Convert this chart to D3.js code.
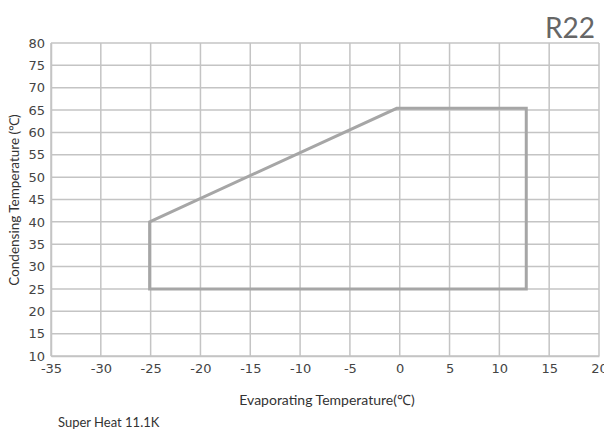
<!DOCTYPE html>
<html><head><meta charset="utf-8">
<script src="https://cdn.jsdelivr.net/npm/d3@7"></script>
<style>body{margin:0;background:#fff}svg{display:block}</style>
</head><body>
<script>
const xTicks = [-35,-30,-25,-20,-15,-10,-5,0,5,10,15,20];
const yTicks = [10,15,20,25,30,35,40,45,50,55,60,65,70,75,80];
const envelopeX = [-25.1, -0.3, 12.7, 12.7, -25.1];
const envelopeY = [40, 65.4, 65.4, 25, 25];
const title = "R22";
const xTitle = "Evaporating Temperature(℃)";
const yTitle = "Condensing Temperature (℃)";
const note = "Super Heat 11.1K";

const W = 604, H = 431;
const m = {l:51, r:5, t:43, b:75};
const svg = d3.select("body").append("svg").attr("width", W).attr("height", H);
const x = d3.scaleLinear().domain([-35,20]).range([m.l, W-m.r]);
const y = d3.scaleLinear().domain([10,80]).range([H-m.b, m.t]);

const grid = svg.append("g");
grid.selectAll("line.v").data(xTicks).join("line")
  .attr("x1", d=>x(d)).attr("x2", d=>x(d)).attr("y1", y(10)).attr("y2", y(80))
  .attr("stroke", "#c4c4c4").attr("stroke-width", 1.5);
grid.selectAll("line.h").data(yTicks).join("line")
  .attr("y1", d=>y(d)).attr("y2", d=>y(d)).attr("x1", x(-35)).attr("x2", x(20))
  .attr("stroke", "#c4c4c4").attr("stroke-width", 1.5);

const fmt = d => String(d);
const xAxis = svg.append("g").attr("transform", `translate(0,${y(10)})`)
  .call(d3.axisBottom(x).tickValues(xTicks).tickFormat(fmt).tickSize(0).tickPadding(8));
const yAxis = svg.append("g").attr("transform", `translate(${x(-35)},0)`)
  .call(d3.axisLeft(y).tickValues(yTicks).tickFormat(fmt).tickSize(0).tickPadding(6));
[xAxis, yAxis].forEach(a => {
  a.select(".domain").attr("stroke", "#c4c4c4").attr("stroke-width", 1.5);
  a.selectAll("text").attr("font-family", "DejaVu Sans").attr("font-size", 13).attr("fill", "#444");
});

const pts = envelopeX.map((v,i)=>[x(v), y(envelopeY[i])]);
svg.append("path").attr("d", d3.line()(pts) + "Z")
  .attr("fill", "none").attr("stroke", "#a6a6a6").attr("stroke-width", 3).attr("stroke-linejoin", "miter");

svg.append("text").attr("x", 595).attr("y", 38).attr("text-anchor", "end")
  .attr("font-family", "Lato").attr("font-size", 28).attr("fill", "#666").text(title);
svg.append("text").attr("x", 327).attr("y", 405).attr("text-anchor", "middle")
  .attr("font-family", "Lato").attr("font-size", 14).attr("fill", "#333").text(xTitle);
svg.append("text").attr("transform", `translate(19,200) rotate(-90)`).attr("text-anchor", "middle")
  .attr("font-family", "Lato").attr("font-size", 13.5).attr("fill", "#333").text(yTitle);
svg.append("text").attr("x", 58).attr("y", 427)
  .attr("font-family", "Lato").attr("font-size", 13).attr("fill", "#333").text(note);
</script>
</body></html>
